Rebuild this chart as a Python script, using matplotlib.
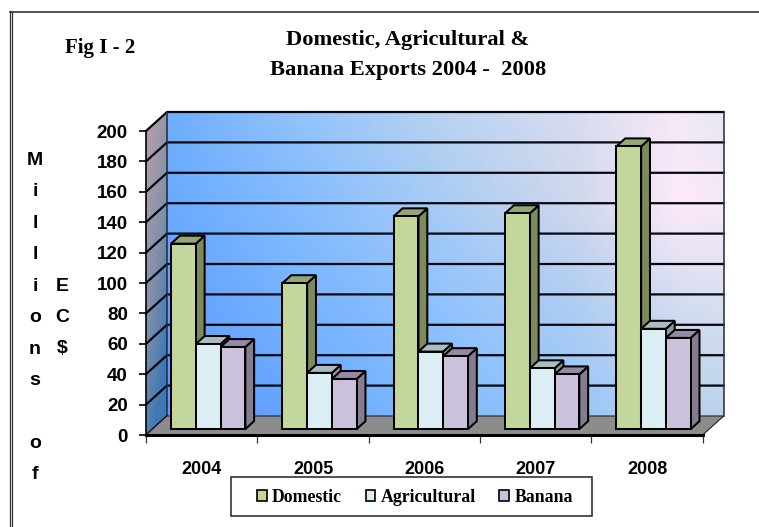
import numpy as np
import matplotlib
matplotlib.use("Agg")
import matplotlib.pyplot as plt
from matplotlib.colors import LinearSegmentedColormap, to_rgb
from matplotlib.patches import Polygon, Patch, Rectangle

years = ["2004", "2005", "2006", "2007", "2008"]
domestic = [122, 96, 140, 142, 186]
agricultural = [56, 37, 51, 40, 66]
banana = [54, 33, 48, 36, 60]
series_names = ["Domestic", "Agricultural", "Banana"]
yticks = list(range(0, 201, 20))

W, H = 759, 527
SANS = "Liberation Sans"
SERIF = "Liberation Serif"

fig = plt.figure(figsize=(W / 100, H / 100), dpi=100, facecolor="white")
ax = fig.add_axes([146 / W, 1 - 435 / H, 556.7 / W, 304 / H])
ax.patch.set_visible(False)
ax.set_xlim(0, 5)
ax.set_ylim(0, 200)

DX = 21 / 111.34   # wall depth in category units
DY = 19 / 1.52     # wall depth in value units

# Background gradient control colours of the back wall
grad_u = [0, .24, .49, .74, .92, 1]
grad_v = [1, .7, .37, 0]
grad_cols = [
    ["#6eaefc", "#92c3fc", "#b8d2f0", "#d8dcf0", "#f6e8f8", "#e6e6f4"],
    ["#6aaaff", "#84bcff", "#a8ccf5", "#d0d8ec", "#fdeaf9", "#f8e8f8"],
    ["#62a0ff", "#78b4ff", "#90c2ff", "#b0cef2", "#d4dcf0", "#d8dff0"],
    ["#5c98ff", "#66a6ff", "#80bcff", "#98c6fa", "#b4d0ee", "#bcd3ec"],
]


def wall_image(ny=150, nx=300):
    ctrl = np.array([[to_rgb(c) for c in row] for row in grad_cols])
    us, vs = np.linspace(0, 1, nx), np.linspace(1, 0, ny)
    ri = np.interp(1 - vs, 1 - np.array(grad_v), np.arange(len(grad_v)))
    ci = np.interp(us, grad_u, np.arange(len(grad_u)))
    r0 = np.clip(np.floor(ri).astype(int), 0, len(grad_v) - 2)
    c0 = np.clip(np.floor(ci).astype(int), 0, len(grad_u) - 2)
    fr, fc = (ri - r0)[:, None, None], (ci - c0)[None, :, None]
    a = ctrl[r0][:, c0]
    b = ctrl[r0][:, c0 + 1]
    c = ctrl[r0 + 1][:, c0]
    d = ctrl[r0 + 1][:, c0 + 1]
    return (a * (1 - fc) + b * fc) * (1 - fr) + (c * (1 - fc) + d * fc) * fr


ax.imshow(wall_image(), aspect="auto", extent=(DX, 5 + DX, DY, 200 + DY),
          zorder=0, clip_on=False, interpolation="bilinear")

# Side wall
side_cm = LinearSegmentedColormap.from_list("side", ["#3f78b4", "#7f8fa8", "#aa9ca8"])
u, v = np.meshgrid(np.linspace(0, 1, 30), np.linspace(1, 0, 120))
side = ax.imshow(np.clip(v * 1.05 - (u - .4) * .45, 0, 1), cmap=side_cm, vmin=0, vmax=1,
                 aspect="auto", extent=(0, DX, 0, 200 + DY), zorder=0)
side.set_clip_box(fig.bbox)
side.set_clip_path(Polygon([(0, 0), (DX, DY), (DX, 200 + DY), (0, 200)],
                           closed=True, transform=ax.transData))
ax.set_xlim(0, 5)
ax.set_ylim(0, 200)

# Floor
ax.add_patch(Polygon([(0, 0), (5, 0), (5 + DX, DY), (DX, DY)], closed=True, fc="#8c8c8c",
                     ec="#222222", lw=.8, zorder=1.5, clip_on=False))

# Grid on walls
for v in yticks:
    if v == 0:
        ax.plot([0, DX], [v, v + DY], color="black", lw=1.3, zorder=1.2, clip_on=False)
        continue
    ax.plot([0, DX, 5 + DX], [v, v + DY, v + DY], color="#05070f", lw=1.6, zorder=1.2,
            clip_on=False, solid_joinstyle="miter")
ax.plot([DX, DX], [DY, 200 + DY], color="#1c2a3c", lw=1.1, zorder=1.2, clip_on=False)
ax.plot([5 + DX, 5 + DX], [DY, 200 + DY], color="#333a44", lw=1.2, zorder=1.2, clip_on=False)

# Bars
F0, F1 = .31, .73
BW = 24.75 / 111.34
GAP = (1 - 3 * BW) / 2
COLORS = [("#c3d69b", "#7c8a5c", "#98a675"),
          ("#dbeef4", "#8a9a9e", "#a9bcbf"),
          ("#ccc1da", "#857c90", "#9589a3")]


def bar3d(x, val, cols, z):
    f, s, tp = cols
    ax0, ay0 = F0 * DX, F0 * DY
    ax1, ay1 = F1 * DX, F1 * DY
    xl, xr = x + ax0, x + BW + ax0
    ybase, ytop = ay0, val + ay0
    dx, dy = ax1 - ax0, ay1 - ay0
    kw = dict(closed=True, ec="black", lw=1.45, joinstyle="miter", clip_on=False, zorder=z)
    ax.add_patch(Polygon([(xr, ybase), (xr + dx, ybase + dy), (xr + dx, ytop + dy), (xr, ytop)], fc=s, **kw))
    ax.add_patch(Polygon([(xl, ytop), (xr, ytop), (xr + dx, ytop + dy), (xl + dx, ytop + dy)], fc=tp, **kw))
    ax.add_patch(Polygon([(xl, ybase), (xr, ybase), (xr, ytop), (xl, ytop)], fc=f, **kw))


for i in range(len(years)):
    for j, vals in enumerate([domestic, agricultural, banana]):
        bar3d(i + GAP + j * BW, vals[i], COLORS[j], 3 + i + j * .1)

# Axes
for s in ("top", "right"):
    ax.spines[s].set_visible(False)
ax.spines["left"].set_linewidth(1.2)
ax.spines["bottom"].set_linewidth(2.2)
ax.set_yticks(yticks)
ax.set_xticks(range(6))
ax.set_xticklabels([])
ax.set_xticks(np.arange(5) + .5, minor=True)
ax.set_xticklabels(years, minor=True, fontfamily=SANS, fontweight="bold", fontsize=13)
ax.tick_params(axis="x", which="major", length=6, width=.9, color="#333333")
ax.tick_params(axis="x", which="minor", length=0, pad=19)
ax.tick_params(axis="y", length=5, width=1.2, pad=8)
for lab in ax.get_yticklabels():
    lab.set_fontfamily(SANS)
    lab.set_fontweight("bold")
    lab.set_fontsize(13.5)


def ftext(x, y, s, **kw):
    fig.text(x / W, 1 - y / H, s, ha="center", va="center", **kw)


ftext(408, 40, "Domestic, Agricultural &", family=SERIF, weight="bold", fontsize=16.2)
ftext(408, 70, "Banana Exports 2004 -  2008", family=SERIF, weight="bold", fontsize=16.2)
ftext(100.5, 48, "Fig I - 2", family=SERIF, weight="bold", fontsize=15)

fig.text(35 / W, 1 - 152 / H, "M\ni\nl\nl\ni\no\nn\ns\n\no\nf", ha="center", va="top",
         ma="center", family=SANS, weight="bold", fontsize=14, linespacing=2.11)
fig.text(62 / W, 1 - 278 / H, "E\nC\n$", ha="center", va="top", ma="center",
         family=SANS, weight="bold", fontsize=14, linespacing=2.08)

# Legend
fig.add_artist(Rectangle((231 / W, 1 - 516 / H), 361 / W, 39.5 / H, transform=fig.transFigure,
                         fc="white", ec="#222222", lw=1.1, zorder=4))
handles = [Patch(fc=c[0], ec="black", lw=1.2) for c in COLORS]
leg = fig.legend(handles, series_names, ncol=3, loc="center left", mode="expand",
                 bbox_to_anchor=(257 / W, 1 - 517 / H, 316 / W, 39.5 / H), borderaxespad=0,
                 frameon=False, prop={"family": SERIF, "weight": "bold", "size": 12.8},
                 handlelength=.55, handleheight=.6, handletextpad=.3, borderpad=0,
                 columnspacing=1.0)
leg.set_zorder(5)

# Page border
fig.add_artist(plt.Line2D([9.5 / W, 9.5 / W], [0, 1 - 11 / H], color="#333333", lw=.9))
fig.add_artist(plt.Line2D([12 / W, 12 / W], [0, 1 - 12 / H], color="#333333", lw=.9))
fig.add_artist(plt.Line2D([9.5 / W, 1], [1 - 11.5 / H, 1 - 11.5 / H], color="#222222", lw=1.1))

fig.savefig("out.png", dpi=100)
